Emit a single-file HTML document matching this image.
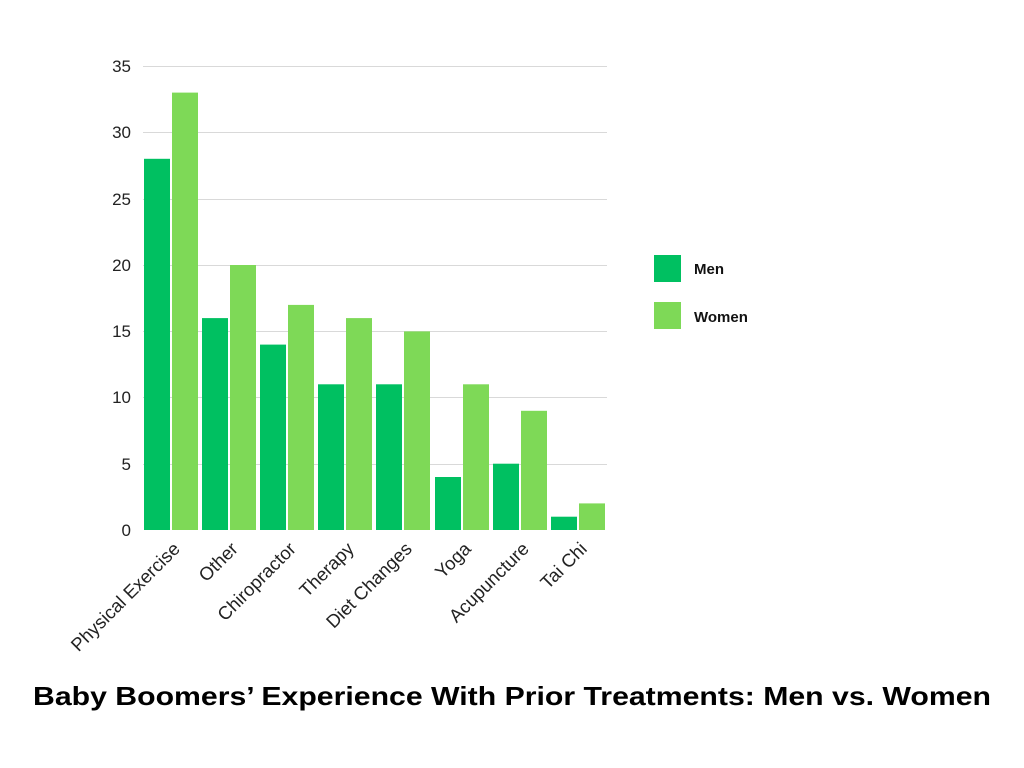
<!DOCTYPE html>
<html><head><meta charset="utf-8"><style>
html,body{margin:0;padding:0;background:#fff;}
svg{display:block;font-family:"Liberation Sans","DejaVu Sans",sans-serif;}
</style></head><body>
<svg width="1024" height="768" viewBox="0 0 1024 768">
<rect width="1024" height="768" fill="#fff"/>
<g stroke="#d9d9d9" stroke-width="1">
<line x1="143" y1="66.5" x2="607" y2="66.5"/>
<line x1="143" y1="132.5" x2="607" y2="132.5"/>
<line x1="143" y1="199.5" x2="607" y2="199.5"/>
<line x1="143" y1="265.5" x2="607" y2="265.5"/>
<line x1="143" y1="331.5" x2="607" y2="331.5"/>
<line x1="143" y1="397.5" x2="607" y2="397.5"/>
<line x1="143" y1="464.5" x2="607" y2="464.5"/>
</g>
<g font-size="17" fill="#222" text-anchor="end">
<text x="131" y="72">35</text>
<text x="131" y="138">30</text>
<text x="131" y="205">25</text>
<text x="131" y="271">20</text>
<text x="131" y="337">15</text>
<text x="131" y="403">10</text>
<text x="131" y="470">5</text>
<text x="131" y="536">0</text>
</g>
<g fill="#00c061">
<rect x="144" y="158.8" width="26" height="371.2"/>
<rect x="202" y="318.1" width="26" height="211.9"/>
<rect x="260" y="344.6" width="26" height="185.4"/>
<rect x="318" y="384.3" width="26" height="145.7"/>
<rect x="376" y="384.3" width="26" height="145.7"/>
<rect x="435" y="477" width="26" height="53"/>
<rect x="493" y="463.7" width="26" height="66.3"/>
<rect x="551" y="516.7" width="26" height="13.3"/>
</g>
<g fill="#7ed957">
<rect x="172" y="92.6" width="26" height="437.4"/>
<rect x="230" y="265" width="26" height="265"/>
<rect x="288" y="304.9" width="26" height="225.1"/>
<rect x="346" y="318.1" width="26" height="211.9"/>
<rect x="404" y="331.4" width="26" height="198.6"/>
<rect x="463" y="384.3" width="26" height="145.7"/>
<rect x="521" y="410.8" width="26" height="119.2"/>
<rect x="579" y="503.4" width="26" height="26.6"/>
</g>
<g font-size="18.5" fill="#222" text-anchor="end">
<text transform="translate(181,550) rotate(-45)">Physical Exercise</text>
<text transform="translate(239,550) rotate(-45)">Other</text>
<text transform="translate(297,550) rotate(-45)">Chiropractor</text>
<text transform="translate(355,550) rotate(-45)">Therapy</text>
<text transform="translate(413,550) rotate(-45)">Diet Changes</text>
<text transform="translate(472,550) rotate(-45)">Yoga</text>
<text transform="translate(530,550) rotate(-45)">Acupuncture</text>
<text transform="translate(588,550) rotate(-45)">Tai Chi</text>
</g>
<rect x="654" y="255" width="27" height="27" fill="#00c061"/>
<rect x="654" y="302" width="27" height="27" fill="#7ed957"/>
<g font-size="15" font-weight="bold" fill="#111">
<text x="694" y="274">Men</text>
<text x="694" y="322">Women</text>
</g>
<text x="512" y="705" text-anchor="middle" font-size="26" font-weight="bold" fill="#000" textLength="958" lengthAdjust="spacingAndGlyphs">Baby Boomers’ Experience With Prior Treatments: Men vs. Women</text>
</svg>
</body></html>
